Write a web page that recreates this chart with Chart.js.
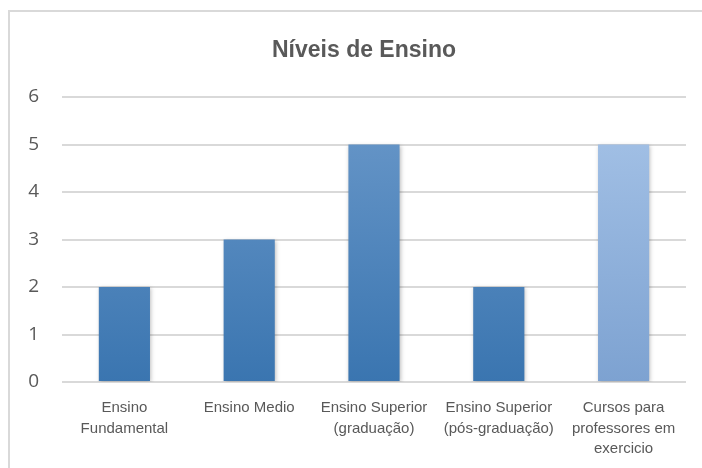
<!DOCTYPE html>
<html>
<head>
<meta charset="utf-8">
<script src="https://cdn.jsdelivr.net/npm/chart.js@4"></script>
<style>
  html, body { margin: 0; padding: 0; background: #fff; }
  #wrap { position: relative; width: 702px; height: 468px; }
  #frame { position: absolute; left: 8px; top: 10px; width: 710px; height: 480px;
           border-left: 2px solid #d9d9d9; border-top: 2px solid #d9d9d9; pointer-events: none; }
</style>
</head>
<body>
<div id="wrap">
  <canvas id="myChart" width="702" height="468"></canvas>
  <div id="frame"></div>
</div>
<script>
  const categories = [
    ['Ensino', 'Fundamental'],
    'Ensino Medio',
    ['Ensino Superior', '(graduação)'],
    ['Ensino Superior', '(pós-graduação)'],
    ['Cursos para', 'professores em', 'exercicio']
  ];
  const values = [2, 3, 5, 2, 5];
  const yTicks = [0, 1, 2, 3, 4, 5, 6];
  const chartTitle = 'Níveis de Ensino';

  // top / bottom colour of each bar's gradient
  const topColors = ['#6b99ca', '#6b99ca', '#6b99ca', '#6b99ca', '#a7c4e8'];
  const bottomColors = ['#3a75b0', '#3a75b0', '#3a75b0', '#3a75b0', '#7da2d1'];

  function barFill(context) {
    const chart = context.chart;
    const area = chart.chartArea;
    if (!area) return topColors[context.dataIndex];
    const el = context.element;
    const y0 = el && el.y !== undefined ? el.y : area.top;
    const y1 = el && el.base !== undefined ? el.base : area.bottom;
    const g = chart.ctx.createLinearGradient(0, y0, 0, y1);
    g.addColorStop(0, topColors[context.dataIndex]);
    g.addColorStop(1, bottomColors[context.dataIndex]);
    return g;
  }

  const shadow = {
    id: 'shadow',
    beforeDatasetsDraw(chart) {
      const c = chart.ctx;
      c.save();
      c.shadowColor = 'rgba(0,0,0,0.25)';
      c.shadowBlur = 4;
      c.shadowOffsetX = 1;
      c.shadowOffsetY = 1;
    },
    afterDatasetsDraw(chart) {
      chart.ctx.restore();
    }
  };

  // title sits a bit right of the canvas centre (centred on the framed box)
  const titlePlugin = {
    id: 'titlePlugin',
    afterDraw(chart) {
      const c = chart.ctx;
      c.save();
      c.fillStyle = '#595959';
      c.font = 'bold 23px "Liberation Sans", Arial';
      c.textAlign = 'center';
      c.textBaseline = 'middle';
      c.fillText(chartTitle, (chart.width + 26) / 2, 51);
      c.restore();
    }
  };

  const ctx = document.getElementById('myChart');
  new Chart(ctx, {
    type: 'bar',
    data: {
      labels: categories,
      datasets: [{
        label: chartTitle,
        data: values,
        backgroundColor: barFill,
        borderWidth: 0,
        barPercentage: 0.41,
        categoryPercentage: 1
      }]
    },
    plugins: [shadow, titlePlugin],
    options: {
      responsive: false,
      animation: false,
      layout: { padding: { left: 0, right: 16, top: 97, bottom: 6 } },
      plugins: {
        legend: { display: false },
        tooltip: { enabled: false },
        title: { display: false }
      },
      scales: {
        x: {
          afterFit(scale) { scale.height = 80; },
          grid: { display: false, drawTicks: false },
          border: { display: false },
          ticks: {
            color: '#595959',
            maxRotation: 0,
            autoSkip: false,
            padding: 16,
            font: { family: '"Liberation Sans", Arial', size: 15, lineHeight: 1.35 }
          }
        },
        y: {
          min: 0,
          max: 6,
          afterFit(scale) { scale.width = 62; },
          afterBuildTicks(scale) { scale.ticks = yTicks.map(v => ({ value: v })); },
          grid: { color: '#d9d9d9', lineWidth: 2, drawTicks: false },
          border: { display: false },
          ticks: {
            color: '#595959',
            padding: 23,
            font: { family: '"Open Sans", "Noto Sans", sans-serif', size: 19 }
          }
        }
      }
    }
  });
</script>
</body>
</html>
